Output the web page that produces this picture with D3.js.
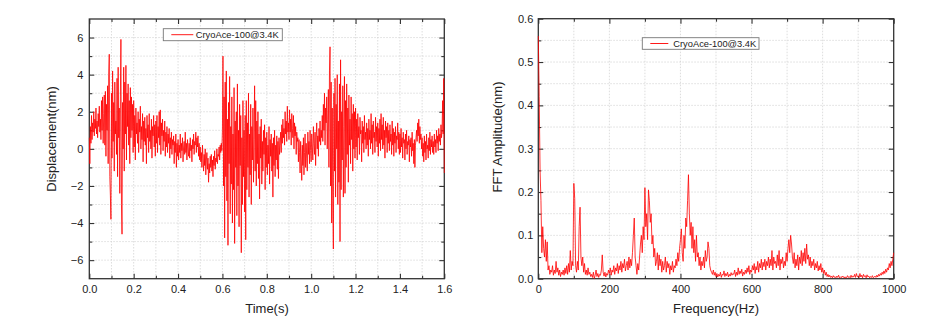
<!DOCTYPE html>
<html><head><meta charset="utf-8">
<script src="https://cdn.jsdelivr.net/npm/d3@7/dist/d3.min.js"></script>
<style>
body{margin:0;background:#fff;}
svg{display:block;font-family:"Liberation Sans",Arial,sans-serif;}
</style></head>
<body><svg id="c" width="947" height="335"></svg>
<script>
// ---- data ----
const seriesName = "CryoAce-100@3.4K";
const timeStep = 0.0025; // s
const displacement = [
 0.6,-0.8,1.2,0.3,1.8,0.5,1.4,0.9,2.0,0.7,1.6,1.1,2.2,0.8,1.5,0.6,1.9,1.2,2.3,0.9,
 1.6,0.5,2.6,1.0,2.8,0.3,1.9,2.9,0.2,3.1,-0.4,2.4,1.0,3.4,-0.8,4.0,5.1,-1.5,-2.5,-3.8,
 3.0,-0.5,4.2,0.4,2.5,-1.2,3.6,0.8,1.5,-0.3,3.8,-1.5,4.4,0.6,2.2,-2.4,2.8,5.9,-3.0,-4.6,
 2.5,0.0,4.4,-1.2,3.6,0.8,4.5,-0.6,3.0,1.2,3.5,0.2,2.6,-0.8,3.3,0.6,2.8,1.0,2.4,-0.2,
 2.6,0.1,1.8,-0.6,2.2,0.8,1.4,0.3,2.0,-0.2,1.6,0.9,2.3,0.0,1.2,0.5,1.9,-0.7,1.5,0.4,
 1.7,0.2,1.1,-0.8,1.8,0.6,1.3,-0.2,1.9,0.4,1.0,0.0,1.6,-0.5,1.2,0.7,1.8,0.1,1.3,-0.4,
 1.5,0.3,1.8,-0.2,1.2,0.6,2.0,0.2,2.1,-0.3,1.4,0.7,1.6,-0.1,1.0,0.4,1.5,-0.4,0.9,0.1,
 1.2,-0.2,0.8,0.3,1.1,-0.5,0.6,0.0,0.9,-0.3,0.5,0.2,0.7,-0.8,0.4,-0.2,0.8,-1.0,0.3,-0.4,
 0.5,-0.6,0.2,-0.2,0.8,-0.5,0.3,-0.1,0.6,-0.7,0.1,0.4,-0.3,0.9,-0.2,0.3,-0.6,0.5,0.0,-0.4,
 0.3,-0.5,0.6,-0.1,0.2,-0.7,0.5,0.0,0.8,-0.3,0.4,0.2,0.9,-0.2,0.6,0.1,0.7,-0.4,0.3,-0.6,
 0.1,-0.7,-0.2,-1.0,0.2,-0.5,-1.2,-0.3,-0.9,0.0,-1.4,-0.6,-0.2,-1.1,-0.5,-1.8,-0.8,-1.3,-0.4,-1.0,
 -0.3,-1.2,-0.6,-1.5,-0.4,-0.9,-0.1,-1.1,-0.5,-0.7,0.0,-0.8,-0.3,-0.4,0.1,-0.6,0.2,-0.2,0.3,-0.1,
 1.0,5.0,-2.0,2.8,-4.8,3.6,-1.5,4.2,-2.8,1.6,-5.2,2.5,-0.8,3.9,-3.5,1.2,-1.9,2.8,-4.0,0.8,
 -2.2,3.3,-5.1,1.5,-1.0,2.0,-3.6,3.5,-2.0,1.0,-4.2,2.4,-0.9,1.8,-5.6,0.6,-3.0,2.6,-1.5,1.0,
 -3.4,1.8,-4.9,2.6,-2.2,1.4,-1.0,3.0,-2.6,0.8,-1.4,2.4,-3.0,1.2,-0.6,2.2,-1.8,0.5,3.4,-1.2,
 2.6,-2.0,1.5,-0.8,2.0,-1.6,0.8,-2.7,1.2,-0.5,1.6,-1.9,0.4,-1.2,1.0,-0.3,1.3,-2.2,0.6,-1.0,
 0.9,-1.4,0.2,-0.8,1.2,-1.9,0.5,-0.4,0.8,-1.2,0.3,-2.6,0.6,-0.9,1.0,-1.5,0.2,-0.6,0.7,-1.1,
 0.4,-1.6,0.6,-0.3,0.2,0.9,-0.2,1.3,0.3,1.6,0.6,1.1,0.2,2.0,0.8,1.5,0.4,2.3,0.9,1.4,
 0.5,2.1,0.9,1.6,0.2,1.9,1.1,0.6,1.8,0.0,1.4,0.7,1.2,-0.3,0.9,0.4,0.6,-0.7,0.5,-0.2,
 -1.3,0.4,-0.6,-1.7,0.2,-0.9,0.6,-1.4,-0.2,0.8,-1.0,0.3,-0.5,-1.2,0.9,-0.3,0.4,-0.8,1.0,-0.1,
 -0.7,0.8,0.1,-0.6,1.2,0.3,-0.3,0.9,-0.9,0.6,1.4,0.0,0.7,-0.4,1.1,0.4,1.5,0.2,1.0,0.6,
 1.8,0.4,2.4,1.0,3.0,0.2,2.2,1.4,2.8,0.0,1.6,3.2,-1.0,4.2,5.5,-2.0,3.6,-4.0,2.2,-2.8,
 -5.4,3.0,-1.2,3.8,-2.6,2.4,0.0,4.0,-3.0,1.5,-1.8,3.5,-5.0,4.8,-2.2,2.0,-0.6,3.4,-2.6,1.2,
 3.9,-2.4,2.6,-1.0,3.5,-0.3,2.2,-1.8,2.9,0.2,1.6,-0.8,2.8,0.5,1.9,-1.2,2.4,0.0,2.0,-0.5,
 2.2,0.1,1.6,-0.6,1.9,0.6,1.2,-0.3,1.7,0.8,1.0,-0.7,1.5,0.3,1.2,-0.2,1.8,0.5,0.9,0.0,
 1.4,0.2,1.1,-0.4,1.6,0.5,1.0,0.0,1.9,0.3,1.3,-0.3,1.5,0.6,0.9,-0.2,1.7,0.4,1.2,0.1,
 1.4,-0.4,1.1,0.3,1.6,-0.1,1.9,0.5,1.3,0.0,1.7,0.2,1.0,-0.5,1.5,0.6,1.2,-0.2,1.4,0.3,
 1.0,-0.1,1.3,0.4,0.8,-0.3,1.5,0.2,1.1,-0.4,0.9,0.3,1.2,-0.2,0.7,0.5,1.4,0.0,0.9,-0.3,
 0.8,-0.2,1.1,0.1,0.6,-0.5,0.9,0.3,0.5,-0.6,0.8,0.0,1.0,-0.3,0.4,0.2,0.7,-0.7,0.5,0.1,
 0.6,-0.4,0.9,-0.1,0.3,-0.8,0.5,-1.0,0.2,0.6,1.0,0.4,1.4,0.7,1.6,0.3,1.2,0.5,0.8,0.0,
 0.6,-0.4,0.3,-0.7,0.7,-0.2,0.4,-0.6,0.8,0.0,0.2,-0.5,0.6,-0.1,0.9,-0.3,0.5,0.1,0.7,-0.2,
 0.4,-0.3,0.8,0.1,0.5,-0.2,1.0,0.3,0.7,-0.1,1.1,0.4,0.8,0.2,1.3,0.6,1.0,2.6,0.8,3.8,
 -1.3
];
const freqStep = 2.5; // Hz
const fftAmplitude = [
 0.56,0.42,0.25,0.18,0.06,0.12,0.07,0.05,0.09,0.04,0.085,0.02,0.03,0.01,0.02,0.015,0.03,0.008,0.02,0.012,
 0.04,0.015,0.025,0.008,0.02,0.005,0.015,0.01,0.02,0.008,0.025,0.012,0.03,0.01,0.035,0.015,0.065,0.02,0.04,0.03,
 0.22,0.185,0.03,0.015,0.04,0.02,0.12,0.165,0.05,0.03,0.05,0.015,0.035,0.01,0.02,0.008,0.025,0.01,0.015,0.005,
 0.01,0.003,0.015,0.0,0.008,0.02,0.005,0.012,0.003,0.01,0.008,0.02,0.055,0.015,0.006,0.015,0.004,0.012,0.008,0.02,
 0.012,0.025,0.008,0.02,0.015,0.03,0.01,0.025,0.018,0.035,0.012,0.03,0.02,0.04,0.015,0.035,0.025,0.045,0.018,0.03,
 0.04,0.02,0.05,0.025,0.045,0.03,0.06,0.10,0.14,0.05,0.03,0.01,0.035,0.02,0.05,0.08,0.10,0.06,0.12,0.09,
 0.21,0.12,0.15,0.09,0.205,0.18,0.13,0.15,0.08,0.10,0.05,0.07,0.03,0.04,0.06,0.02,0.055,0.03,0.045,0.015,
 0.04,0.02,0.03,0.05,0.015,0.04,0.025,0.035,0.01,0.03,0.02,0.04,0.015,0.03,0.025,0.045,0.03,0.06,0.04,0.07,
 0.09,0.115,0.06,0.04,0.10,0.07,0.14,0.12,0.18,0.24,0.15,0.10,0.13,0.07,0.12,0.06,0.09,0.04,0.10,0.05,
 0.06,0.03,0.05,0.02,0.04,0.03,0.05,0.025,0.065,0.04,0.05,0.085,0.07,0.03,0.02,0.015,0.01,0.02,0.008,0.015,
 0.005,0.012,0.004,0.01,0.006,0.015,0.003,0.01,0.008,0.018,0.005,0.012,0.007,0.015,0.004,0.01,0.006,0.014,0.008,0.012,
 0.01,0.02,0.005,0.015,0.008,0.025,0.01,0.018,0.012,0.022,0.006,0.015,0.01,0.02,0.012,0.025,0.015,0.03,0.01,0.02,
 0.015,0.03,0.02,0.035,0.012,0.028,0.02,0.04,0.015,0.035,0.025,0.045,0.02,0.038,0.028,0.045,0.02,0.04,0.03,0.05,
 0.025,0.045,0.03,0.065,0.02,0.05,0.035,0.04,0.025,0.055,0.03,0.065,0.02,0.045,0.035,0.05,0.025,0.04,0.03,0.06,
 0.04,0.07,0.09,0.06,0.10,0.08,0.05,0.035,0.06,0.025,0.045,0.03,0.055,0.02,0.05,0.035,0.065,0.03,0.06,0.04,
 0.07,0.035,0.08,0.045,0.055,0.03,0.05,0.025,0.04,0.03,0.045,0.02,0.035,0.025,0.04,0.018,0.03,0.02,0.035,0.015,
 0.025,0.012,0.02,0.008,0.015,0.005,0.01,0.004,0.008,0.003,0.006,0.002,0.007,0.003,0.005,0.002,0.006,0.003,0.008,0.002,
 0.004,0.002,0.006,0.003,0.005,0.001,0.004,0.002,0.007,0.003,0.005,0.002,0.008,0.003,0.006,0.004,0.01,0.003,0.012,0.005,
 0.006,0.003,0.012,0.004,0.008,0.002,0.01,0.005,0.007,0.002,0.009,0.004,0.006,0.002,0.005,0.003,0.007,0.002,0.004,0.006,
 0.003,0.008,0.004,0.01,0.006,0.012,0.008,0.015,0.01,0.018,0.012,0.022,0.015,0.025,0.02,0.035,0.025,0.04,0.03,0.045,
 0.06
];
const leftXMajor = [0,0.2,0.4,0.6,0.8,1.0,1.2,1.4,1.6];
const leftXMinor = [0.1,0.3,0.5,0.7,0.9,1.1,1.3,1.5];
const leftYMajor = [-6,-4,-2,0,2,4,6];
const leftYMinor = [-7,-5,-3,-1,1,3,5,7];
const rightXMajor = [0,200,400,600,800,1000];
const rightXMinor = [100,300,500,700,900];
const rightYMajor = [0,0.1,0.2,0.3,0.4,0.5,0.6];
const rightYMinor = [0.05,0.15,0.25,0.35,0.45,0.55];

const svg = d3.select("#c");

function panel(cfg){
  const {L,R,T,B} = cfg;
  const x = d3.scaleLinear().domain(cfg.xDomain).range([L,R]);
  const y = d3.scaleLinear().domain(cfg.yDomain).range([B,T]);
  const g = svg.append("g");
  const gx = cfg.xMajor.concat(cfg.xMinor).filter(v=>v>cfg.xDomain[0]&&v<cfg.xDomain[1]);
  const gy = cfg.yMajor.concat(cfg.yMinor).filter(v=>v>cfg.yDomain[0]&&v<cfg.yDomain[1]);
  g.append("g").selectAll("line").data(gx).join("line")
    .attr("x1",d=>x(d)).attr("x2",d=>x(d)).attr("y1",T).attr("y2",B)
    .attr("stroke","#d4d4d4").attr("stroke-width",0.8).attr("stroke-dasharray","1.5,1.5");
  g.append("g").selectAll("line").data(gy).join("line")
    .attr("y1",d=>y(d)).attr("y2",d=>y(d)).attr("x1",L).attr("x2",R)
    .attr("stroke","#d4d4d4").attr("stroke-width",0.8).attr("stroke-dasharray","1.5,1.5");
  const style = sel => { sel.select(".domain").remove();
    sel.selectAll(".tick line").attr("stroke","#333").attr("stroke-width",1.1);
    sel.selectAll("text").attr("fill","#222").style("font-size","11px")
      .style("font-family","'Liberation Sans',Arial,sans-serif"); };
  g.append("g").attr("transform",`translate(0,${B})`)
    .call(d3.axisBottom(x).tickValues(cfg.xMajor).tickFormat(cfg.xFmt).tickSize(-5).tickPadding(7)).call(style);
  g.append("g").attr("transform",`translate(0,${B})`)
    .call(d3.axisBottom(x).tickValues(cfg.xMinor).tickFormat("").tickSize(-3)).call(style);
  g.append("g").attr("transform",`translate(0,${T})`)
    .call(d3.axisTop(x).tickValues(cfg.xMajor).tickFormat("").tickSize(-5)).call(style);
  g.append("g").attr("transform",`translate(0,${T})`)
    .call(d3.axisTop(x).tickValues(cfg.xMinor).tickFormat("").tickSize(-3)).call(style);
  const yMin = cfg.yMinor.filter(v=>v>cfg.yDomain[0]&&v<cfg.yDomain[1]);
  g.append("g").attr("transform",`translate(${L},0)`)
    .call(d3.axisLeft(y).tickValues(cfg.yMajor).tickFormat(cfg.yFmt).tickSize(-5).tickPadding(cfg.yPad)).call(style);
  g.append("g").attr("transform",`translate(${L},0)`)
    .call(d3.axisLeft(y).tickValues(yMin).tickFormat("").tickSize(-3)).call(style);
  g.append("g").attr("transform",`translate(${R},0)`)
    .call(d3.axisRight(y).tickValues(cfg.yMajor).tickFormat("").tickSize(-5)).call(style);
  g.append("g").attr("transform",`translate(${R},0)`)
    .call(d3.axisRight(y).tickValues(yMin).tickFormat("").tickSize(-3)).call(style);
  g.append("rect").attr("x",L).attr("y",T).attr("width",R-L).attr("height",B-T)
    .attr("fill","none").attr("stroke","#333").attr("stroke-width",1.3);
  // data line (drawn over the frame, as in the original)
  const clipId = "clip"+cfg.id;
  svg.append("clipPath").attr("id",clipId).append("rect")
    .attr("x",L-1).attr("y",T).attr("width",R-L+2).attr("height",B-T);
  g.append("path").datum(cfg.values)
    .attr("clip-path","url(#"+clipId+")")
    .attr("fill","none").attr("stroke","#ff0000").attr("stroke-width",0.8)
    .attr("stroke-linejoin","miter")
    .attr("d",d3.line().x((d,i)=>x(i*cfg.step)).y(d=>y(d)));
  g.append("text").attr("x",cfg.xtX).attr("y",313).attr("text-anchor","middle")
    .style("font-size","13px").attr("fill","#222").text(cfg.xTitle);
  g.append("text").attr("transform",`translate(${cfg.ytX},${cfg.ytY}) rotate(-90)`)
    .attr("text-anchor","middle").style("font-size","13px").attr("fill","#222").text(cfg.yTitle);
  const lg = cfg.legend;
  g.append("rect").attr("x",lg.x).attr("y",lg.y).attr("width",lg.w).attr("height",lg.h)
    .attr("fill","#fff").attr("stroke","#777").attr("stroke-width",0.9);
  g.append("line").attr("x1",lg.x+lg.l1).attr("x2",lg.x+lg.l2).attr("y1",lg.y+lg.h/2).attr("y2",lg.y+lg.h/2)
    .attr("stroke","#ff0000").attr("stroke-width",0.9);
  g.append("text").attr("x",lg.x+lg.tx).attr("y",lg.y+lg.h/2+3.3)
    .style("font-size","9.3px").attr("fill","#222").text(seriesName);
}

panel({id:"L", L:89.3,R:444.3,T:19,B:278.7, xDomain:[0,1.6], yDomain:[-7,7],
  values:displacement, step:timeStep,
  xMajor:leftXMajor, xMinor:leftXMinor, yMajor:leftYMajor, yMinor:leftYMinor,
  xFmt:d3.format(".1f"), yFmt:d3.format("d"), yPad:6,
  xTitle:"Time(s)", xtX:267, yTitle:"Displacement(nm)", ytX:55.5, ytY:139,
  legend:{x:163.3,y:28.7,w:119,h:12,l1:8,l2:30,tx:32.5}});

panel({id:"R", L:538.3,R:893.7,T:18.7,B:278.7, xDomain:[0,1000], yDomain:[0,0.6],
  values:fftAmplitude, step:freqStep,
  xMajor:rightXMajor, xMinor:rightXMinor, yMajor:rightYMajor, yMinor:rightYMinor,
  xFmt:d3.format("d"), yFmt:d3.format(".1f"), yPad:5,
  xTitle:"Frequency(Hz)", xtX:716, yTitle:"FFT Amplitude(nm)", ytX:502, ytY:137,
  legend:{x:642.3,y:37.7,w:116.7,h:11.6,l1:8,l2:26,tx:31}});
</script></body></html>
